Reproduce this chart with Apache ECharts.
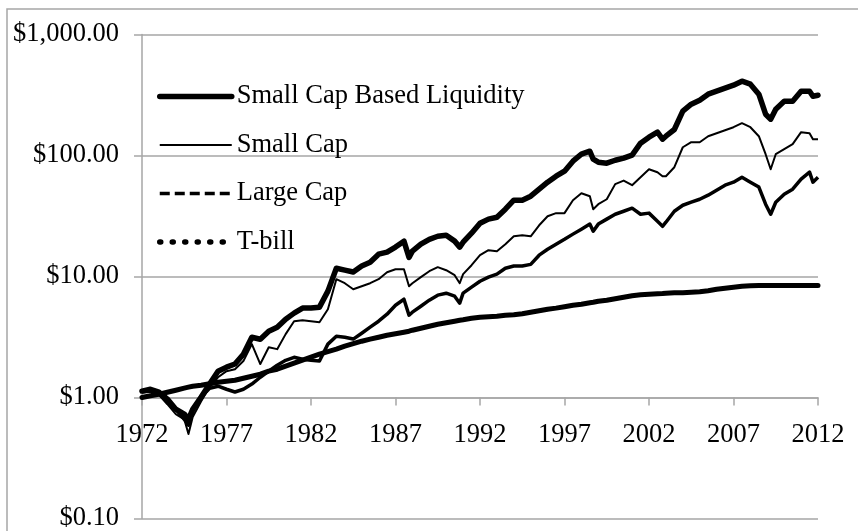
<!DOCTYPE html>
<html><head><meta charset="utf-8">
<script src="https://cdn.jsdelivr.net/npm/echarts@6/dist/echarts.min.js"></script>
<style>html,body{margin:0;padding:0;background:#fff}#c{width:858px;height:531px}</style>
</head><body><div id="c"></div><script>
const years = [1972, 1972.5, 1973, 1973.5, 1974, 1974.5, 1974.75, 1975, 1975.5, 1976, 1976.5, 1977, 1977.5, 1978, 1978.5, 1979, 1979.5, 1980, 1980.5, 1981, 1981.5, 1982, 1982.5, 1983, 1983.5, 1984, 1984.5, 1985, 1985.5, 1986, 1986.5, 1987, 1987.5, 1987.8, 1988, 1988.5, 1989, 1989.5, 1990, 1990.5, 1990.8, 1991, 1991.5, 1992, 1992.5, 1993, 1993.5, 1994, 1994.5, 1995, 1995.5, 1996, 1996.5, 1997, 1997.5, 1998, 1998.5, 1998.7, 1999, 1999.5, 2000, 2000.5, 2001, 2001.5, 2002, 2002.5, 2002.8, 2003, 2003.5, 2004, 2004.5, 2005, 2005.5, 2006, 2006.5, 2007, 2007.5, 2008, 2008.5, 2008.9, 2009.2, 2009.5, 2010, 2010.5, 2011, 2011.5, 2011.7, 2012];

const liquidity = [1.13, 1.17, 1.11, 0.97, 0.80, 0.73, 0.66, 0.80, 1.01, 1.29,
  1.65, 1.78, 1.89, 2.28, 3.15, 3.03, 3.53, 3.81, 4.44, 4.98,
  5.48, 5.48, 5.58, 7.57, 11.7, 11.3, 10.9, 12.2, 13.1, 15.3,
  15.9, 17.5, 19.6, 14.4, 16.2, 18.5, 20.3, 21.5, 21.9, 19.6,
  17.5, 19.2, 22.8, 27.6, 29.8, 30.9, 36.0, 42.7, 42.7, 46.1,
  52.7, 60.2, 67.4, 74.2, 89.7, 102.5, 108.5, 93.2, 88.0, 86.4,
  91.4, 95.0, 100.6, 126.4, 141.7, 155.8, 136.4, 144.4, 164.0, 232.3,
  265.4, 286.4, 321.0, 339.9, 359.9, 381.0, 411.1, 388.3, 321.0, 219.4,
  199.5, 241.3, 281.0, 281.0, 339.9, 339.9, 309.1, 315.0];

const smallCap = [1.13, 1.15, 1.05, 0.88, 0.73, 0.66, 0.50, 0.69, 0.93, 1.22,
  1.47, 1.65, 1.71, 2.00, 2.76, 1.89, 2.60, 2.51, 3.34, 4.27,
  4.35, 4.27, 4.19, 5.37, 9.50, 8.80, 7.85, 8.31, 8.80, 9.50,
  10.85, 11.49, 11.49, 8.31, 8.80, 9.87, 11.06, 11.94, 11.27, 10.25,
  8.80, 10.45, 12.40, 15.0, 16.5, 16.2, 18.5, 21.5, 21.9, 21.5,
  26.5, 31.5, 33.4, 33.4, 42.7, 48.8, 46.1, 36.0, 39.6, 43.5,
  58.0, 62.0, 56.8, 66.2, 77.0, 72.8, 67.4, 67.4, 80.0, 117.0,
  128.8, 128.8, 144.4, 152.9, 161.8, 171.3, 184.9, 171.3, 144.4, 102.5,
  77.0, 102.5, 112.7, 124.0, 155.8, 152.9, 136.4, 136.4];

const largeCap = [1.11, 1.13, 1.07, 0.93, 0.80, 0.66, 0.59, 0.77, 1.01, 1.19,
  1.24, 1.17, 1.11, 1.17, 1.29, 1.47, 1.65, 1.85, 2.03, 2.15,
  2.07, 2.03, 2.00, 2.76, 3.21, 3.15, 3.04, 3.40, 3.82, 4.27,
  4.88, 5.79, 6.49, 4.79, 5.07, 5.68, 6.37, 7.01, 7.28, 6.87,
  6.02, 7.28, 8.16, 9.14, 9.87, 10.45, 11.7, 12.2, 12.2, 12.6,
  15.0, 16.8, 18.5, 20.3, 22.4, 24.6, 27.1, 23.7, 27.1, 29.8,
  32.7, 34.6, 36.7, 32.7, 33.4, 28.6, 26.0, 28.1, 34.6, 38.8,
  41.1, 43.5, 47.0, 51.7, 56.8, 60.2, 66.2, 60.2, 54.8, 39.6,
  32.7, 41.1, 47.9, 52.7, 63.7, 72.8, 60.2, 66.2];

const tBill = [1.00, 1.035, 1.065, 1.106, 1.149, 1.194, 1.217, 1.240, 1.264, 1.300,
  1.338, 1.364, 1.390, 1.444, 1.500, 1.558, 1.650, 1.713, 1.814, 1.921,
  2.033, 2.153, 2.281, 2.390, 2.507, 2.654, 2.783, 2.919, 3.035, 3.150,
  3.272, 3.367, 3.464, 3.531, 3.599, 3.738, 3.883, 4.034, 4.151, 4.271,
  4.353, 4.395, 4.522, 4.609, 4.653, 4.698, 4.788, 4.833, 4.926, 5.069,
  5.215, 5.367, 5.477, 5.628, 5.791, 5.902, 6.073, 6.131, 6.249, 6.369,
  6.553, 6.743, 6.938, 7.072, 7.143, 7.213, 7.24, 7.28, 7.35, 7.35,
  7.42, 7.49, 7.63, 7.85, 8.00, 8.16, 8.31, 8.39, 8.41, 8.42,
  8.42, 8.42, 8.43, 8.43, 8.43, 8.43, 8.43, 8.43];

const seriesNames = ['Small Cap Based Liquidity', 'Small Cap', 'Large Cap', 'T-bill'];
const BASE_YEAR = 1972;
const X_SPAN = 40;

function pts(vals) { return years.map((y, i) => [y - BASE_YEAR, vals[i]]); }
function money(v) {
  return '$' + Number(v).toLocaleString('en-US', {minimumFractionDigits: 2, maximumFractionDigits: 2});
}

const GRAY = '#a6a6a6';
const FONT = 'Liberation Serif';
const FS = 26.5;

const chart = echarts.init(document.getElementById('c'), null, {renderer: 'canvas'});
chart.setOption({
  animation: false,
  backgroundColor: '#fff',
  graphic: [{
    type: 'rect', silent: true, z: -10,
    shape: {x: 7, y: 9, width: 900, height: 560},
    style: {fill: 'none', stroke: GRAY, lineWidth: 1.5}
  }],
  grid: {left: 142, top: 34.5, width: 676, height: 484, containLabel: false, outerBoundsMode: 'none'},
  legend: {
    orient: 'vertical', left: 157, top: 83, padding: 0,
    itemWidth: 72, itemHeight: 26, itemGap: 21.5,
    itemStyle: {opacity: 0, borderWidth: 0},
    textStyle: {fontFamily: FONT, fontSize: FS, color: '#000'},
    data: [
      {name: seriesNames[0], lineStyle: {width: 5.5, color: '#000', cap: 'round'}},
      {name: seriesNames[1], lineStyle: {width: 2, color: '#000'}},
      {name: seriesNames[2], lineStyle: {width: 3.5, color: '#000', type: [10, 5]}},
      {name: seriesNames[3], lineStyle: {width: 5.5, color: '#000', type: [1, 11.5], cap: 'round'}}
    ]
  },
  xAxis: {
    type: 'value', min: 0, max: X_SPAN, interval: 5, offset: -121,
    axisLine: {show: true, onZero: false, lineStyle: {color: GRAY, width: 1.5}},
    axisTick: {show: true, length: 8, lineStyle: {color: GRAY, width: 1.5}},
    axisLabel: {formatter: v => String(BASE_YEAR + v), margin: 24, fontFamily: FONT, fontSize: FS, color: '#000'},
    splitLine: {show: false}
  },
  yAxis: {
    type: 'log', logBase: 10, min: 0.1, max: 1000,
    axisLine: {show: true, lineStyle: {color: GRAY, width: 1.5}},
    axisTick: {show: true, length: 8, lineStyle: {color: GRAY, width: 1.5}},
    axisLabel: {formatter: v => money(v), margin: 23, fontFamily: FONT, fontSize: FS, color: '#000', padding: [4, 0, 0, 0]},
    splitLine: {show: true, lineStyle: {color: GRAY, width: 1.5}}
  },
  series: [
    {name: seriesNames[3], type: 'line', data: pts(tBill), symbol: 'none', z: 2,
     lineStyle: {color: '#000', width: 5, join: 'round', cap: 'round'}, itemStyle: {color: '#000'}},
    {name: seriesNames[2], type: 'line', data: pts(largeCap), symbol: 'none', z: 3,
     lineStyle: {color: '#000', width: 3.5, join: 'round'}, itemStyle: {color: '#000'}},
    {name: seriesNames[1], type: 'line', data: pts(smallCap), symbol: 'none', z: 4,
     lineStyle: {color: '#000', width: 2, join: 'round'}, itemStyle: {color: '#000'}},
    {name: seriesNames[0], type: 'line', data: pts(liquidity), symbol: 'none', z: 5,
     lineStyle: {color: '#000', width: 5.5, join: 'round', cap: 'round'}, itemStyle: {color: '#000'}}
  ]
});
</script></body></html>
